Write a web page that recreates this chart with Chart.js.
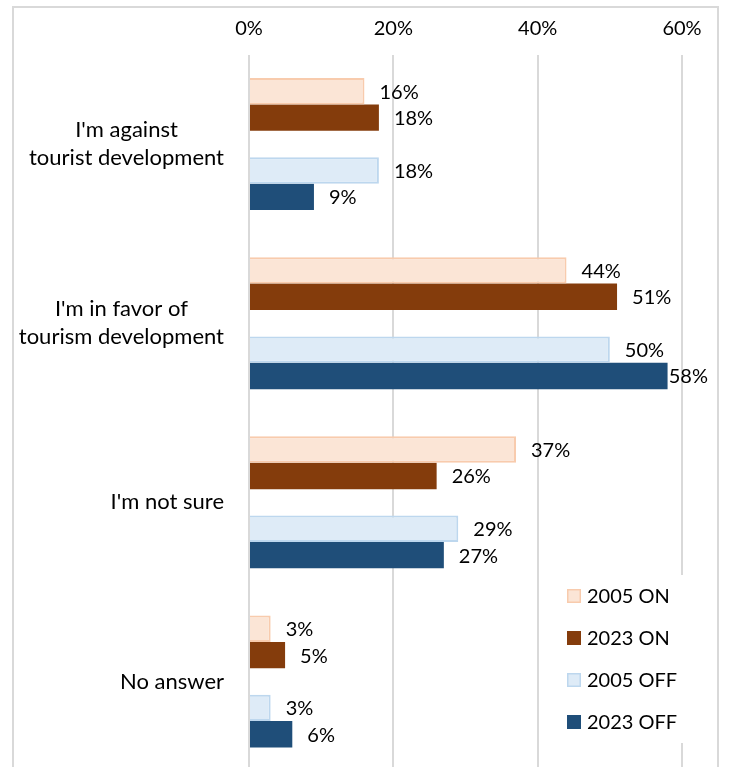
<!DOCTYPE html>
<html>
<head>
<meta charset="utf-8">
<script src="https://cdn.jsdelivr.net/npm/chart.js@4/dist/chart.umd.min.js"></script>
<style>
    html, body { margin: 0; padding: 0; background: #fff; overflow: hidden; }
    canvas { position: absolute; left: 0; top: 0; }
</style>
</head>
<body>
<canvas id="chart" width="731" height="824"></canvas>
<script>
const categories = [
    ["I'm against", 'tourist development'],
    ["I'm in favor of", 'tourism development'],
    ["I'm not sure"],
    ['No answer'],
];
const on2005 = [16, 44, 37, 3];
const on2023 = [18, 51, 26, 5];
const off2005 = [18, 50, 29, 3];
const off2023 = [9, 58, 27, 6];
const xTicks = [0, 20, 40, 60];

const FONT = "Lato, 'Noto Sans', sans-serif";

// outer frame round the whole chart
const framePlugin = {
    id: 'frame',
    beforeDraw(chart) {
        const ctx = chart.ctx;
        ctx.save();
        ctx.strokeStyle = '#d9d9d9';
        ctx.lineWidth = 2;
        ctx.strokeRect(13, 7, 705, 900);
        ctx.restore();
    },
};

// category labels: block right-aligned to the axis, lines centred inside it
const categoryLabels = {
    id: 'categoryLabels',
    afterDraw(chart) {
        const ctx = chart.ctx;
        const yScale = chart.scales.y;
        const right = yScale.right - 25;
        const lineH = 28;
        ctx.save();
        ctx.font = '22px ' + FONT;
        ctx.fillStyle = '#000';
        ctx.textAlign = 'center';
        ctx.textBaseline = 'middle';
        categories.forEach((lines, i) => {
            const block = Math.max(...lines.map((l) => ctx.measureText(l).width));
            const cx = right - block / 2;
            const cy = yScale.getPixelForTick(i);
            lines.forEach((line, k) => {
                ctx.fillText(line, cx, cy + (k - (lines.length - 1) / 2) * lineH);
            });
        });
        ctx.restore();
    },
};

// value labels just past the end of each bar
const valueLabels = {
    id: 'valueLabels',
    afterDatasetsDraw(chart) {
        const ctx = chart.ctx;
        ctx.save();
        ctx.font = '20px ' + FONT;
        ctx.fillStyle = '#000';
        ctx.textBaseline = 'middle';
        ctx.textAlign = 'left';
        chart.data.datasets.forEach((ds, i) => {
            if (ds.spacer) return;
            chart.getDatasetMeta(i).data.forEach((bar, j) => {
                const text = ds.data[j] + '%';
                const w = ctx.measureText(text).width;
                let x = bar.x + 15;
                if (x + w > 708) x = 708 - w;
                ctx.fillText(text, x, bar.y + 1);
            });
        });
        ctx.restore();
    },
};

// legend box in the lower right of the plot
const cornerLegend = {
    id: 'cornerLegend',
    afterDraw(chart) {
        const ctx = chart.ctx;
        ctx.save();
        ctx.fillStyle = '#fff';
        ctx.fillRect(555, 575, 150, 168);
        ctx.font = '20px ' + FONT;
        ctx.textBaseline = 'middle';
        let y = 596;
        chart.data.datasets.forEach((ds) => {
            if (ds.spacer) return;
            ctx.fillStyle = ds.backgroundColor;
            ctx.fillRect(567, y - 7, 14, 14);
            ctx.strokeStyle = ds.borderColor;
            ctx.lineWidth = 1.5;
            ctx.strokeRect(567.75, y - 6.25, 12.5, 12.5);
            ctx.fillStyle = '#000';
            ctx.fillText(ds.label, 587, y + 1);
            y += 42;
        });
        ctx.restore();
    },
};

new Chart(document.getElementById('chart'), {
    type: 'bar',
    data: {
        labels: categories,
        datasets: [
            { label: '2005 ON', data: on2005, backgroundColor: '#fbe5d6', borderColor: '#f8cbad', borderWidth: 2 },
            { label: '2023 ON', data: on2023, backgroundColor: '#843c0c', borderColor: '#843c0c', borderWidth: 0 },
            { label: '', data: [null, null, null, null], spacer: true, backgroundColor: 'rgba(0,0,0,0)' },
            { label: '2005 OFF', data: off2005, backgroundColor: '#deebf7', borderColor: '#bdd7ee', borderWidth: 2 },
            { label: '2023 OFF', data: off2023, backgroundColor: '#1f4e79', borderColor: '#1f4e79', borderWidth: 0 },
        ],
    },
    options: {
        indexAxis: 'y',
        responsive: false,
        animation: false,
        categoryPercentage: 0.737,
        barPercentage: 1,
        layout: { padding: { top: 0, right: 49, bottom: 20, left: 0 } },
        plugins: {
            legend: { display: false },
            tooltip: { enabled: false },
        },
        scales: {
            x: {
                position: 'top',
                min: 0,
                max: 60,
                afterBuildTicks: (scale) => { scale.ticks = xTicks.map((v) => ({ value: v })); },
                afterFit: (scale) => { scale.height = 54.5; },
                ticks: {
                    callback: (v) => v + '%',
                    color: '#000',
                    font: { family: FONT, size: 20 },
                    padding: 14,
                },
                grid: { color: '#d9d9d9', lineWidth: 2, drawTicks: false },
                border: { display: false },
            },
            y: {
                afterFit: (scale) => { scale.width = 249; },
                ticks: {
                    // drawn by categoryLabels, kept here only for layout
                    color: 'rgba(0,0,0,0)',
                    font: { family: FONT, size: 22, lineHeight: 1.27 },
                    padding: 25,
                },
                grid: { display: false, drawTicks: false },
                border: { display: false },
            },
        },
    },
    plugins: [framePlugin, valueLabels, cornerLegend, categoryLabels],
});
</script>
</body>
</html>
